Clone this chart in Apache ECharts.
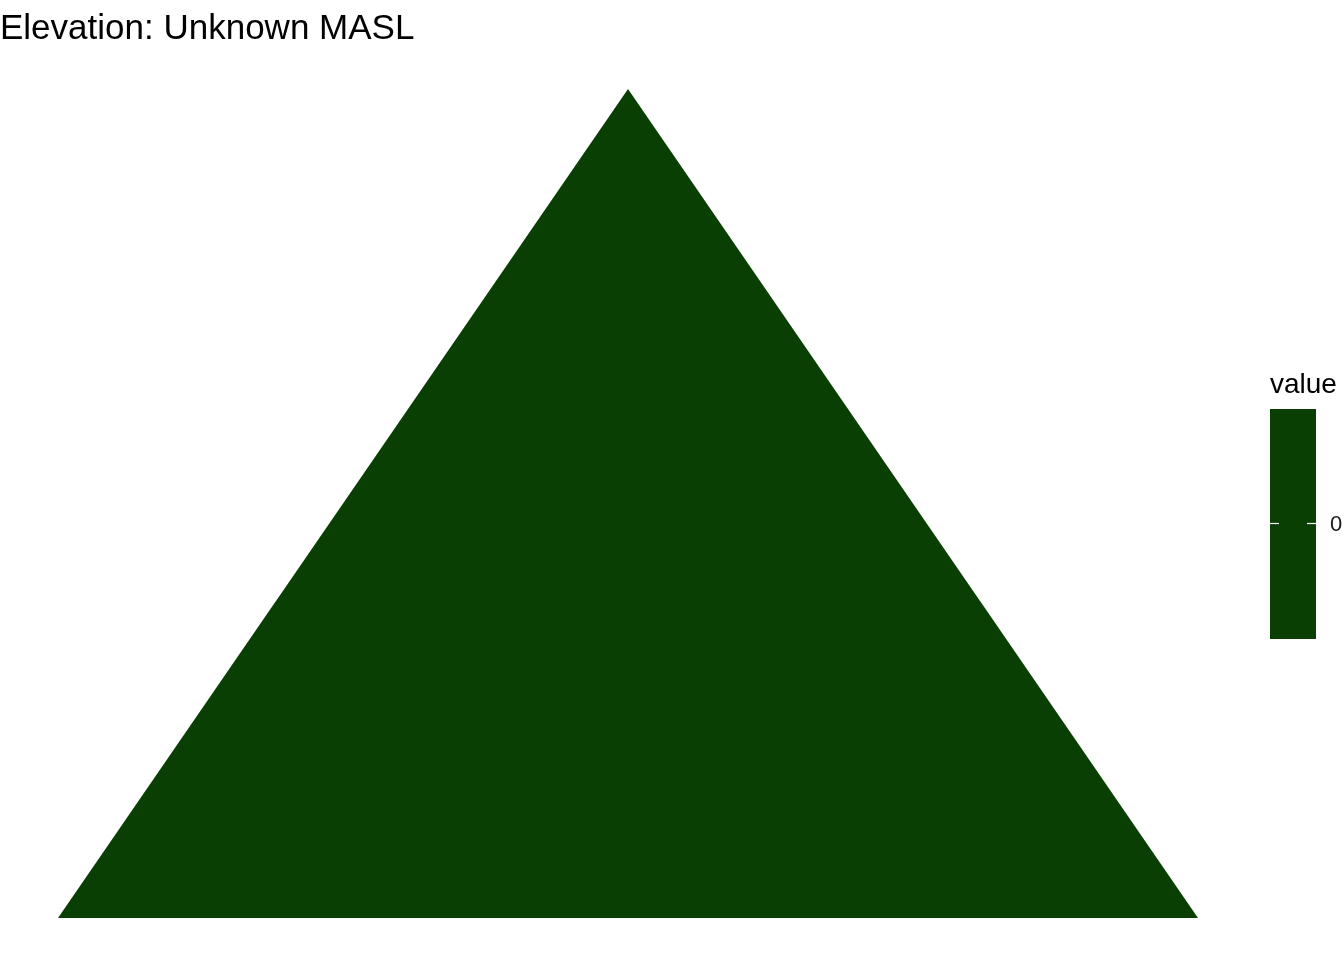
<!DOCTYPE html>
<html>
<head>
<meta charset="utf-8">
<script src="https://cdn.jsdelivr.net/npm/echarts@6/dist/echarts.min.js"></script>
<style>
html,body{margin:0;padding:0;background:#fff;}
#main{width:1344px;height:960px;}
</style>
</head>
<body>
<div id="main"></div>
<script>
// Polygon vertices (data units)
const polyX = [0, 0.5, 1];
const polyY = [0, 1, 0];
const fillValue = [0];
const legendTicks = ['0'];
const titleText = 'Elevation: Unknown MASL';
const legendTitle = 'value';
const fillColor = '#0A3F04';

const chart = echarts.init(document.getElementById('main'), null, {renderer: 'canvas'});
const polyData = polyX.map((x, i) => [x, polyY[i], fillValue[0]]);

chart.setOption({
  backgroundColor: '#ffffff',
  animation: false,
  title: {
    text: titleText,
    left: 0,
    top: 12,
    padding: 0,
    textStyle: {fontFamily: 'Liberation Sans', fontSize: 35, fontWeight: 'normal', color: '#000'}
  },
  grid: {left: 58, right: 146, top: 89, bottom: 42},
  xAxis: {type: 'value', min: 0, max: 1, show: false},
  yAxis: {type: 'value', min: 0, max: 1, show: false},
  series: [{
    type: 'custom',
    coordinateSystem: 'cartesian2d',
    data: polyData,
    renderItem: function (params, api) {
      if (params.dataIndex !== 0) return;
      const pts = polyData.map(d => api.coord([d[0], d[1]]));
      return {
        type: 'polygon',
        shape: {points: pts},
        style: {fill: fillColor, stroke: null}
      };
    }
  }],
  graphic: [
    {type: 'text', left: 1270, top: 371, style: {text: legendTitle, font: '28px "Liberation Sans"', fill: '#000'}},
    {type: 'rect', shape: {x: 1270, y: 409, width: 46, height: 230}, style: {fill: fillColor}},
    {type: 'line', shape: {x1: 1270, y1: 523.5, x2: 1279, y2: 523.5}, style: {stroke: '#fff', lineWidth: 1.2}},
    {type: 'line', shape: {x1: 1307, y1: 523.5, x2: 1316, y2: 523.5}, style: {stroke: '#fff', lineWidth: 1.2}},
    {type: 'text', x: 1330, y: 525, style: {text: legendTicks[0], font: '22px "Liberation Sans"', fill: '#1a1a1a', verticalAlign: 'middle'}}
  ]
});
</script>
</body>
</html>
